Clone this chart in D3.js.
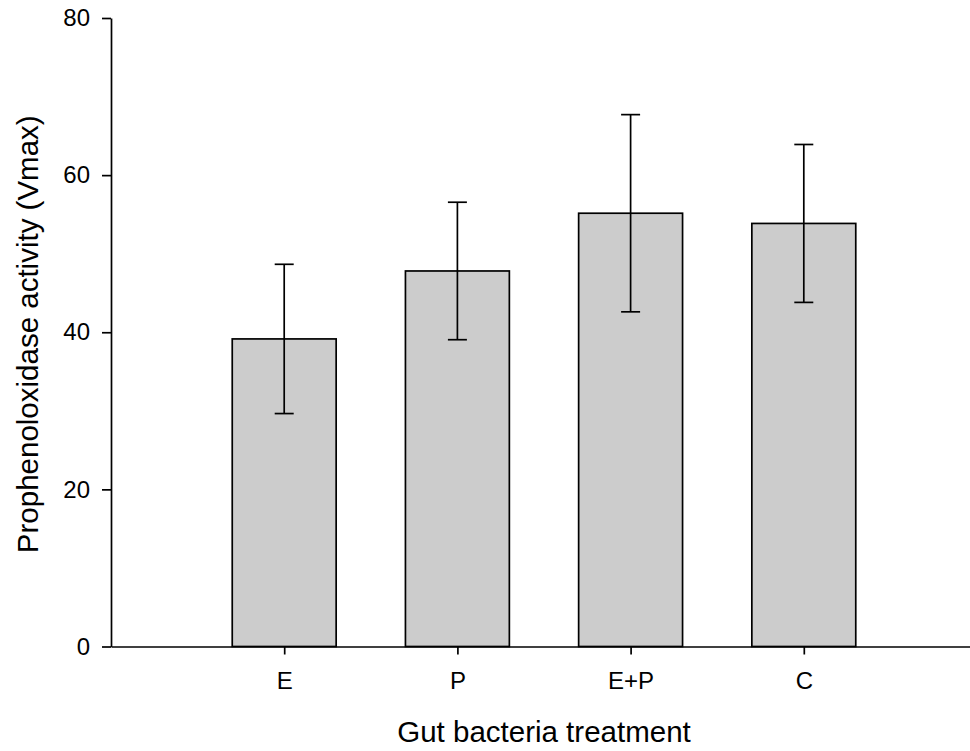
<!DOCTYPE html>
<html>
<head>
<meta charset="utf-8">
<script src="https://cdn.jsdelivr.net/npm/d3@7"></script>
<style>
  html, body { margin: 0; padding: 0; background: #fff; }
  svg { display: block; font-family: "Liberation Sans", Arial, sans-serif; }
</style>
</head>
<body>
<svg id="chart" width="970" height="751"></svg>
<script>
// Treatment groups and their mean prophenoloxidase activity with error bars
const categories = ["E", "P", "E+P", "C"];
const means = [39.15, 47.8, 55.15, 53.85];
const errors = [9.5, 8.75, 12.55, 10.05];
const yTicks = [0, 20, 40, 60, 80];

const width = 970, height = 751;
const margin = { left: 111, right: -7, top: 18, bottom: 104.5 };

const svg = d3.select("#chart");

// Point scale with one empty slot on each side of the four groups
const x = d3.scalePoint()
  .domain(["", ...categories, " "])
  .range([margin.left, width - margin.right]);
const step = x.step();
const barW = step * 0.6;

const y = d3.scaleLinear()
  .domain([0, 80])
  .range([height - margin.bottom, margin.top]);

const g = svg.append("g");

// Bars
g.selectAll("rect.bar")
  .data(categories)
  .join("rect")
  .attr("class", "bar")
  .attr("x", (d) => x(d) - barW / 2)
  .attr("y", (d, i) => y(means[i]))
  .attr("width", barW)
  .attr("height", (d, i) => y(0) - y(means[i]))
  .attr("fill", "#cccccc")
  .attr("stroke", "#000")
  .attr("stroke-width", 1.7);

// Error bars
const capW = 19;
const eb = g.selectAll("g.err")
  .data(categories)
  .join("g")
  .attr("class", "err")
  .attr("stroke", "#000")
  .attr("stroke-width", 1.7);
eb.append("line")
  .attr("x1", (d) => x(d)).attr("x2", (d) => x(d))
  .attr("y1", (d, i) => y(means[i] + errors[i]))
  .attr("y2", (d, i) => y(means[i] - errors[i]));
eb.append("line")
  .attr("x1", (d) => x(d) - capW / 2).attr("x2", (d) => x(d) + capW / 2)
  .attr("y1", (d, i) => y(means[i] + errors[i]))
  .attr("y2", (d, i) => y(means[i] + errors[i]));
eb.append("line")
  .attr("x1", (d) => x(d) - capW / 2).attr("x2", (d) => x(d) + capW / 2)
  .attr("y1", (d, i) => y(means[i] - errors[i]))
  .attr("y2", (d, i) => y(means[i] - errors[i]));

// Y axis
const yAxis = d3.axisLeft(y).tickValues(yTicks).tickSize(9).tickPadding(12).tickSizeOuter(0);
const ya = svg.append("g")
  .attr("transform", `translate(${margin.left},0)`)
  .call(yAxis);
ya.select(".domain").attr("stroke-width", 1.7);
ya.selectAll(".tick line").attr("stroke-width", 1.7);
ya.selectAll("text").attr("font-size", 24).attr("fill", "#000")
  .attr("font-family", "'Liberation Sans', Arial, sans-serif");

// X axis
const xAxis = d3.axisBottom(x).tickValues(categories).tickSize(8).tickPadding(17).tickSizeOuter(0);
const xa = svg.append("g")
  .attr("transform", `translate(0,${y(0)})`)
  .call(xAxis);
xa.select(".domain").attr("stroke-width", 1.7);
xa.selectAll(".tick line").attr("stroke-width", 1.7);
xa.selectAll("text").attr("font-size", 24).attr("fill", "#000")
  .attr("font-family", "'Liberation Sans', Arial, sans-serif");

// Axis titles
svg.append("text")
  .attr("x", 544)
  .attr("y", 742)
  .attr("text-anchor", "middle")
  .attr("font-size", 29.5)
  .text("Gut bacteria treatment");

svg.append("text")
  .attr("transform", `translate(38,${(y(0) + y(80)) / 2 + 2}) rotate(-90)`)
  .attr("text-anchor", "middle")
  .attr("font-size", 29.5)
  .text("Prophenoloxidase activity (Vmax)");
</script>
</body>
</html>
